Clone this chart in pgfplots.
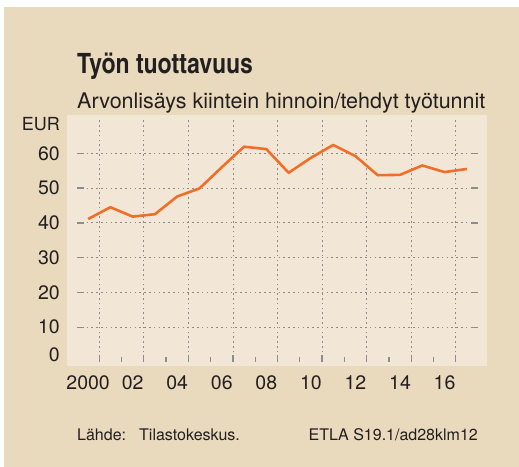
\documentclass[border=0pt]{standalone}
\usepackage{fontspec}
\setmainfont{TeX Gyre Heros}
\newfontfamily\titlefont{texgyreheroscn-bold.otf}
\usepackage{pgfplots}
\pgfplotsset{compat=1.18}
\definecolor{outerbg}{HTML}{E9D9BD}
\definecolor{innerbg}{HTML}{F2E7D6}
\definecolor{lineor}{HTML}{F06E28}
\definecolor{gridgr}{HTML}{8C8C8C}
\definecolor{txt}{HTML}{231F20}
\begin{document}
\begin{tikzpicture}
\useasboundingbox (0,0) rectangle (519bp,-467bp);
\fill[white] (0,0) rectangle (519bp,-467bp);
\fill[outerbg] (4bp,-7bp) rectangle (519bp,-467bp);
\fill[innerbg] (67bp,-115bp) rectangle (487bp,-366bp);
\node[anchor=base west, inner sep=0, text=txt] at (77bp,-73bp) {\titlefont\fontsize{28bp}{30bp}\selectfont Työn tuottavuus};
\node[anchor=base west, inner sep=0, text=txt] at (77bp,-108bp) {\fontsize{21.5bp}{24bp}\selectfont Arvonlisäys kiintein hinnoin/tehdyt työtunnit};
\begin{axis}[
  at={(77bp,-362bp)}, anchor=south west,
  scale only axis, width=401bp, height=243.5bp,
  xmin=1999.5, xmax=2017.5, ymin=0, ymax=70,
  axis line style={draw=none},
  xtick={2000.5,2002.5,2004.5,2006.5,2008.5,2010.5,2012.5,2014.5,2016.5},
  minor xtick={2001.5,2003.5,2005.5,2007.5,2009.5,2011.5,2013.5,2015.5},
  xticklabels={2000,02,04,06,08,10,12,14,16},
  ytick={10,20,30,40,50,60},
  yticklabels={10,20,30,40,50,60},
  xtick pos=lower, ytick pos=both, yticklabel pos=left, tick align=inside,
  xmajorgrids, ymajorgrids,
  grid style={gridgr, dash pattern=on 1.6bp off 3.2bp, line width=0.8bp},
  major tick length=7bp, minor tick length=5bp,
  tick style={gridgr, line width=1.3bp, solid},
  xticklabel style={font=\fontsize{19.5bp}{22bp}\selectfont, text=txt, anchor=north, inner sep=0pt, yshift=-13bp, xshift=-11.17bp},
  yticklabel style={font=\fontsize{19.5bp}{22bp}\selectfont, text=txt, anchor=east, inner sep=0pt, xshift=-17bp},
]
\addplot[lineor, line width=2.6bp, line join=round] coordinates {
(2000,41.1) (2001,44.5) (2002,41.8) (2003,42.5) (2004,47.6) (2005,49.9)
(2006,56.0) (2007,61.9) (2008,61.2) (2009,54.4) (2010,58.7) (2011,62.4)
(2012,59.2) (2013,53.7) (2014,53.8) (2015,56.5) (2016,54.6) (2017,55.5)
};
\end{axis}
\node[anchor=east, inner sep=0, text=txt] at (60bp,-355bp) {\fontsize{19.5bp}{22bp}\selectfont 0};
\node[anchor=east, inner sep=0, text=txt] at (60bp,-124bp) {\fontsize{18bp}{22bp}\selectfont EUR};
\node[anchor=base west, inner sep=0, text=txt] at (77bp,-440bp) {\fontsize{16bp}{18bp}\selectfont Lähde:};
\node[anchor=base west, inner sep=0, text=txt] at (139bp,-440bp) {\fontsize{16bp}{18bp}\selectfont Tilastokeskus.};
\node[anchor=base east, inner sep=0, text=txt] at (478bp,-440bp) {\fontsize{16bp}{18bp}\selectfont ETLA S19.1/ad28klm12};
\end{tikzpicture}
\end{document}
